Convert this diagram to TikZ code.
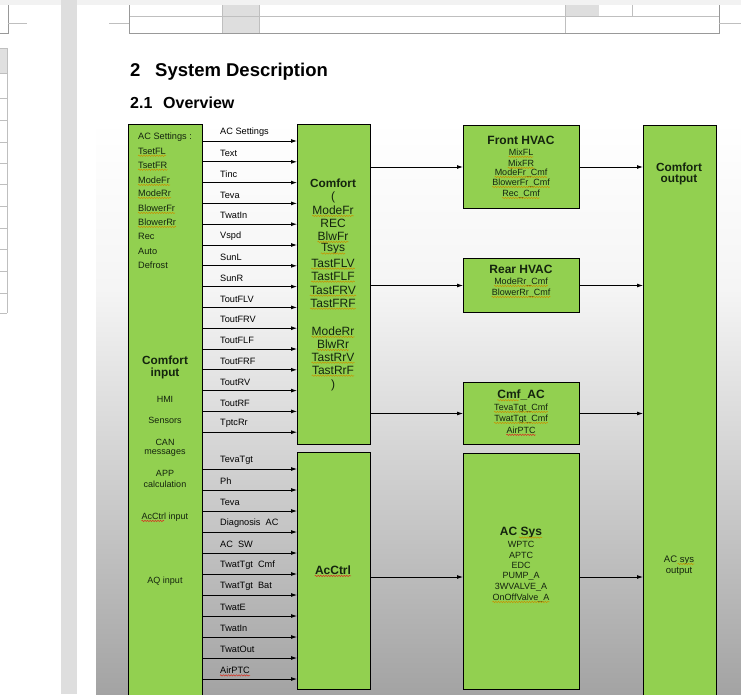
\documentclass[tikz,border=0pt]{standalone}
\usepackage{fontspec}
\setmainfont{Liberation Sans}
\usetikzlibrary{arrows.meta,decorations.pathmorphing,calc}
\definecolor{boxgreen}{HTML}{92D050}
\definecolor{txt}{HTML}{14240E}
\definecolor{sqy}{HTML}{C89200}
\definecolor{sqr}{HTML}{D83020}
\begin{document}
\begin{tikzpicture}[x=1pt,y=-1pt,
  box/.style={draw=black, line width=1pt, fill=boxgreen, anchor=north west, inner sep=0pt, rectangle},
  arr/.style={draw=black, line width=0.8pt, -{Latex[length=6pt,width=4pt]}},
  lbl/.style={anchor=west, font=\fontsize{9.2}{10}\selectfont, inner sep=0pt, text=black},
  itm/.style={font=\fontsize{9.2}{10}\selectfont, inner sep=0pt, text=txt},
  itmw/.style={itm, anchor=west},
  small/.style={font=\fontsize{9}{10}\selectfont, inner sep=0pt, text=txt},
  mid/.style={font=\fontsize{12}{13}\selectfont, inner sep=0pt, text=txt},
  ttl/.style={font=\bfseries\fontsize{11.8}{13}\selectfont, inner sep=0pt, text=txt},
  bigttl/.style={font=\bfseries\fontsize{12}{14}\selectfont, inner sep=0pt, text=txt},
  tline/.style={draw=black!40, line width=1pt},
  thin/.style={draw=black!25, line width=0.6pt},
  squig/.style={draw=sqy, line width=0.5pt, decorate, decoration={snake, amplitude=0.7pt, segment length=2.6pt}},
  squigr/.style={squig, draw=sqr}]
\useasboundingbox (0,0) rectangle (741,694);
\clip (0,0) rectangle (741,694);
% page background
\fill[white] (0,0) rectangle (741,694);
\fill[black!5] (0,0) rectangle (741,5);
\fill[black!13] (61,0) rectangle (77,694);
% left page table
\draw[tline] (8,5) -- (8,33) -- (0,33);
\draw[thin] (8,23) -- (27,23);
\fill[black!12] (0,48) rectangle (7,73);
\draw[thin] (7,48) -- (7,313);
\foreach \yy in {48,73,98,120,142,163,184,206,228,249,271,293,313}
  \draw[thin] (0,\yy) -- (7,\yy);
% top table of right page
\fill[black!13] (222,5) rectangle (259,33);
\fill[black!13] (565,5) rectangle (599,16);
\draw[thin] (129,16) -- (719,16);
\draw[thin] (222,5) -- (222,33);
\draw[thin] (259,5) -- (259,33);
\draw[thin] (565,5) -- (565,33);
\draw[thin] (632,5) -- (632,16);
\draw[tline] (129,5) -- (129,33) -- (719,33) -- (719,5);
\draw[thin] (109,23) -- (129,23);
\draw[thin] (719,23) -- (741,23);
% headings
\node[anchor=base west, inner sep=0pt, font=\bfseries\fontsize{18.5}{22}\selectfont] (h1n) at (130,76) {2};
\node[anchor=base west, inner sep=0pt, font=\bfseries\fontsize{18.5}{22}\selectfont] (h1) at (155,76) {System Description};
\node[anchor=base west, inner sep=0pt, font=\bfseries\fontsize{16}{19}\selectfont] (h2n) at (130,108) {2.1};
\node[anchor=base west, inner sep=0pt, font=\bfseries\fontsize{16}{19}\selectfont] (h2) at (163,108) {Overview};
% diagram background
\shade[top color=white, bottom color=black!4] (96,120) rectangle (741,290);
\shade[top color=black!4, bottom color=black!36] (96,290) rectangle (741,694);
% boxes
\node[box, minimum width=74, minimum height=580] (cin) at (128,124) {};
\node[box, minimum width=73, minimum height=320] (cmf) at (297,124) {};
\node[box, minimum width=73, minimum height=237] (acc) at (297,452) {};
\node[box, minimum width=116, minimum height=83] (front) at (463,125) {};
\node[box, minimum width=116, minimum height=54] (rear) at (463,258) {};
\node[box, minimum width=116, minimum height=62] (cmfac) at (463,382) {};
\node[box, minimum width=116, minimum height=236] (acsys) at (463,453) {};
\node[box, minimum width=73, minimum height=580] (cout) at (643,125) {};
% Comfort input texts
\foreach \t/\yy [count=\i] in {AC Settings :/137, TsetFL/151, TsetFR/165, ModeFr/180, ModeRr/193, BlowerFr/208, BlowerRr/222, Rec/236, Auto/251, Defrost/265}
  \node[itmw] (ci\i) at (138,\yy) {\t};
\node[ttl] (cint1) at (165,360) {Comfort};
\node[ttl] (cint2) at (165,373) {input};
\foreach \t/\yy [count=\i] in {HMI/399, Sensors/420, CAN/442, messages/453, APP/473, calculation/484, AcCtrl input/517, AQ input/581}
  \node[small] (cx\i) at (165,\yy) {\t};
% Comfort box texts
\node[ttl] (cmft) at (333,183) {Comfort};
\node[mid] (cmop) at (333,197) {(};
\foreach \t/\yy [count=\i] in {ModeFr/210, REC/223, BlwFr/236, Tsys/249, TastFLV/263, TastFLF/276, TastFRV/290, TastFRF/303, ModeRr/331, BlwRr/344, TastRrV/357, TastRrF/370}
  \node[mid] (cm\i) at (333,\yy) {\t};
\node[mid] (cmcl) at (333,385) {)};
\node[bigttl] (acct) at (333,570) {AcCtrl};
% right boxes texts
\node[bigttl] (frt) at (521,140) {Front HVAC};
\foreach \t/\yy [count=\i] in {MixFL/152, MixFR/163, ModeFr\_Cmf/173, BlowerFr\_Cmf/183, Rec\_Cmf/194}
  \node[small] (fr\i) at (521,\yy) {\t};
\node[bigttl] (rrt) at (521,269) {Rear HVAC};
\foreach \t/\yy [count=\i] in {ModeRr\_Cmf/282, BlowerRr\_Cmf/293}
  \node[small] (rr\i) at (521,\yy) {\t};
\node[bigttl] (cat) at (521,395) {Cmf\_AC};
\foreach \t/\yy [count=\i] in {TevaTgt\_Cmf/408, TwatTgt\_Cmf/419, AirPTC/430}
  \node[small] (ca\i) at (521,\yy) {\t};
\node[bigttl] (ast) at (521,533) {AC Sys};
\foreach \t/\yy [count=\i] in {WPTC/544, APTC/555, EDC/565, PUMP\_A/576, 3WVALVE\_A/587, OnOffValve\_A/598}
  \node[small] (as\i) at (521,\yy) {\t};
\node[ttl] (cot1) at (679,167) {Comfort};
\node[ttl] (cot2) at (679,180) {output};
\node[font=\fontsize{9.5}{11}\selectfont, inner sep=0pt, text=txt] (aso1) at (679,560) {AC sys};
\node[font=\fontsize{9.5}{11}\selectfont, inner sep=0pt, text=txt] (aso2) at (679,571) {output};
% input arrows to Comfort
\foreach \t [count=\i from 0] in {AC Settings, Text, Tinc, Teva, TwatIn, Vspd, SunL, SunR, ToutFLV, ToutFRV, ToutFLF, ToutFRF, ToutRV, ToutRF, TptcRr} {
  \pgfmathsetmacro\yy{141+\i*20.8}
  \coordinate (pa\i) at (0,\yy);
  \draw[arr] (cin.east |- pa\i) -- (cmf.west |- pa\i);
  \node[lbl] (la\i) at (220,\yy-8.5) {\t};
}
% input arrows to AcCtrl
\foreach \t [count=\i from 0] in {TevaTgt, Ph, Teva, Diagnosis\ \ AC, AC\ \ SW, TwatTgt\ \ Cmf, TwatTgt\ \ Bat, TwatE, TwatIn, TwatOut, AirPTC} {
  \pgfmathsetmacro\yy{469+\i*21}
  \coordinate (pb\i) at (0,\yy);
  \draw[arr] (cin.east |- pb\i) -- (acc.west |- pb\i);
  \node[lbl] (lb\i) at (220,\yy-8.5) {\t};
}
% middle arrows
\draw[arr] (cmf.east |- front.west) -- (front.west);
\draw[arr] (cmf.east |- rear.west) -- (rear.west);
\draw[arr] (cmf.east |- cmfac.west) -- (cmfac.west);
\coordinate (acy) at (0,577);
\draw[arr] (acc.east |- acy) -- (acsys.west |- acy);
% output arrows
\draw[arr] (front.east) -- (cout.west |- front.east);
\draw[arr] (rear.east) -- (cout.west |- rear.east);
\draw[arr] (cmfac.east) -- (cout.west |- cmfac.east);
\draw[arr] (acsys.east |- acy) -- (cout.west |- acy);
% spell-check underlines
\foreach \n in {ci2,ci3,ci4,ci5,ci6,ci7,cm1,cm3,cm4,cm5,cm6,cm7,cm8,cm9,cm10,cm11,cm12,fr1,fr2,fr3,fr4,fr5,rr1,rr2,ca1,ca2,as6}
  \draw[squig] ([yshift=-1.6pt]\n.base west) -- ([yshift=-1.6pt]\n.base east);
\foreach \n in {ca3,lb10,acct}
  \draw[squigr] ([yshift=-1.6pt]\n.base west) -- ([yshift=-1.6pt]\n.base east);
\draw[squigr] ([yshift=-1.6pt]cx7.base west) -- ([yshift=-1.6pt]$(cx7.base west)!0.48!(cx7.base east)$);
\draw[squig] ([yshift=-1.6pt]$(ast.base west)!0.45!(ast.base east)$) -- ([yshift=-1.6pt]ast.base east);
\draw[squig] ([yshift=-1.6pt]$(aso1.base west)!0.45!(aso1.base east)$) -- ([yshift=-1.6pt]aso1.base east);
\draw[squig] ([yshift=-1.6pt]cat.base west) -- ([yshift=-1.6pt]$(cat.base west)!0.45!(cat.base east)$);
\end{tikzpicture}
\end{document}
